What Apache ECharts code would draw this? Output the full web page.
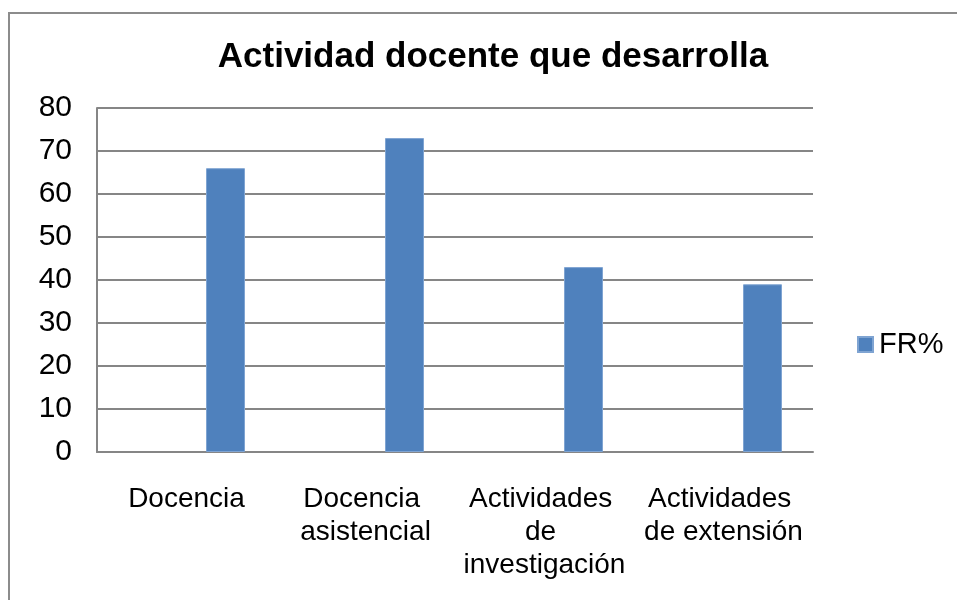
<!DOCTYPE html>
<html>
<head>
<meta charset="utf-8">
<script src="https://cdn.jsdelivr.net/npm/echarts@6/dist/echarts.min.js"></script>
<style>
html, body { margin: 0; padding: 0; background: #fff; }
#chart { width: 957px; height: 600px; }
</style>
</head>
<body>
<div id="chart"></div>
<script>
// categorias y valores (FR%)
var categories = ['Docencia', 'Docencia asistencial', 'Actividades de investigación', 'Actividades de extensión'];
var frValues = [66, 73, 43, 39];
var emptyValues = [null, null, null, null];

var myChart = echarts.init(document.getElementById('chart'));

var font = 'Liberation Sans, Arial, sans-serif';

var option = {
    animation: false,
    backgroundColor: '#fff',
    title: {
        text: 'Actividad docente que desarrolla',
        left: 488,
        textAlign: 'center',
        top: 35,
        textStyle: {
            fontFamily: font,
            fontWeight: 'bold',
            fontSize: 35,
            color: '#000'
        }
    },
    graphic: [{
        type: 'rect',
        shape: { x: 9, y: 13, width: 1000, height: 700 },
        style: { fill: 'none', stroke: '#8c8c8c', lineWidth: 2 },
        silent: true
    }],
    legend: {
        data: ['FR%'],
        left: 852,
        top: 325,
        itemWidth: 15,
        itemHeight: 15,
        icon: 'rect',
        textStyle: {
            fontFamily: font,
            fontSize: 29,
            color: '#000',
            padding: [0, 0, 0, 1]
        }
    },
    grid: {
        left: 97,
        right: 144,
        top: 108,
        bottom: 148,
        containLabel: false,
        outerBoundsMode: 'none'
    },
    xAxis: {
        type: 'category',
        data: categories,
        axisLine: { show: true, lineStyle: { color: '#868686', width: 2 } },
        axisTick: { show: false },
        axisLabel: {
            interval: 0,
            margin: 31,
            fontFamily: font,
            fontSize: 28,
            lineHeight: 33,
            color: '#000',
            width: 178,
            overflow: 'break',
            align: 'center'
        }
    },
    yAxis: {
        type: 'value',
        min: 0,
        max: 80,
        interval: 10,
        axisLine: { show: true, lineStyle: { color: '#868686', width: 2 } },
        axisTick: { show: false },
        splitLine: { lineStyle: { color: '#868686', width: 2 } },
        axisLabel: {
            margin: 25,
            fontFamily: font,
            fontSize: 30,
            color: '#000'
        }
    },
    series: [{
        name: 's1',
        type: 'bar',
        data: emptyValues,
        barWidth: 39,
        barGap: '0%'
    }, {
        name: 's2',
        type: 'bar',
        data: emptyValues,
        barWidth: 39,
        barGap: '0%'
    }, {
        name: 'FR%',
        type: 'bar',
        data: frValues,
        barWidth: 39,
        barGap: '0%',
        itemStyle: {
            color: '#4f81bd',
            borderColor: '#7fa4d2',
            borderWidth: 1
        }
    }]
};
myChart.setOption(option);
</script>
</body>
</html>
